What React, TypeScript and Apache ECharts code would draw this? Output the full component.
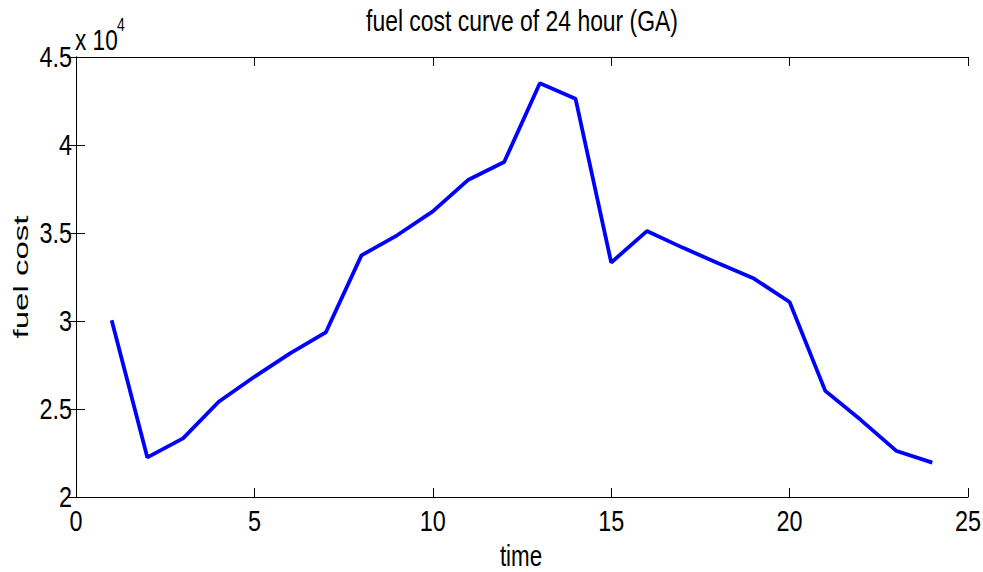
import React, { useEffect, useRef } from "react";
import * as echarts from "echarts";

const hours = [1, 2, 3, 4, 5, 6, 7, 8, 9, 10, 11, 12, 13, 14, 15, 16, 17, 18, 19, 20, 21, 22, 23, 24];
const fuelCost = [
  30040, 22250, 23330, 25410, 26830, 28160, 29350, 33730, 34870, 36230, 38030, 39030,
  43510, 42630, 33320, 35110, 34170, 33280, 32410, 31080, 26030, 24370, 22610, 21950,
];
const xTicks = [0, 5, 10, 15, 20, 25];
const yTicks = [20000, 25000, 30000, 35000, 40000, 45000];
const yTickLabels = ["2", "2.5", "3", "3.5", "4", "4.5"];
const titleText = "fuel cost curve of 24 hour (GA)";
const xName = "time";
const yName = "fuel cost";
const xMin = 0;
const xMax = 25;
const xStep = 5;
const yMin = 20000;
const yMax = 45000;
const yStep = 5000;

const SANS = '"Liberation Sans", Arial, sans-serif';
const SQ = 0.78;

export default function App() {
  const ref = useRef<HTMLDivElement>(null);
  useEffect(() => {
    if (!ref.current) return;
    const chart = echarts.init(ref.current, undefined, { renderer: "svg" });
    const axisLine = { show: true, lineStyle: { color: "#000", width: 1 } };
    const tick = { show: true, inside: true, length: 9, lineStyle: { color: "#000", width: 1 } };
    const baseAxis = {
      type: "value",
      axisLine,
      axisTick: tick,
      splitLine: { show: false },
      axisLabel: { show: false },
    };
    chart.setOption({
      animation: false,
      backgroundColor: "#fff",
      grid: { left: 76, top: 57, right: 15, bottom: 75, containLabel: false, outerBoundsMode: "none" },
      xAxis: [
        { ...baseAxis, min: xMin, max: xMax, interval: xStep, position: "bottom" },
        { ...baseAxis, min: xMin, max: xMax, interval: xStep, position: "top" },
      ],
      yAxis: [
        { ...baseAxis, min: yMin, max: yMax, interval: yStep, position: "left" },
        { ...baseAxis, min: yMin, max: yMax, interval: yStep, position: "right" },
      ],
      series: [
        {
          type: "line",
          data: hours.map((h, i) => [h, fuelCost[i]]),
          showSymbol: false,
          symbol: "none",
          lineStyle: { color: "#0000ff", width: 3.8 },
          itemStyle: { color: "#0000ff" },
        },
      ],
    });

    const textEl = (
      text: string,
      x: number,
      y: number,
      size: number,
      align: string,
      extra: Record<string, unknown> = {}
    ) => ({
      type: "text",
      x,
      y,
      scaleX: SQ,
      ...extra,
      style: {
        text,
        fill: "#000",
        font: `${size}px ${SANS}`,
        textAlign: align,
        textVerticalAlign: "middle",
      },
    });

    const graphics: any[] = [];
    xTicks.forEach((v) => {
      const p = chart.convertToPixel({ gridIndex: 0 }, [v, yMin]) as number[];
      graphics.push(textEl(String(v), p[0], p[1] + 24, 30, "center"));
    });
    yTicks.forEach((v, i) => {
      const p = chart.convertToPixel({ gridIndex: 0 }, [xMin, v]) as number[];
      graphics.push(textEl(yTickLabels[i], p[0] - 4, p[1], 30, "right"));
    });
    graphics.push(textEl(titleText, 522, 21, 29, "center", { scaleX: 0.79 }));
    graphics.push(textEl(xName, 521, 556, 29, "center", { scaleX: 0.77 }));
    graphics.push(
      textEl(yName, 21, 277, 33, "center", { rotation: Math.PI / 2, scaleX: 1, scaleY: 0.62 })
    );
    graphics.push(textEl("x 10", 75, 40, 29, "left"));
    graphics.push(textEl("4", 117, 24, 18, "left"));

    chart.setOption({ graphic: graphics });
    return () => chart.dispose();
  }, []);
  return (
    <div
      ref={ref}
      style={{ position: "absolute", left: 0, top: 0, width: 983, height: 572, background: "#fff" }}
    />
  );
}
